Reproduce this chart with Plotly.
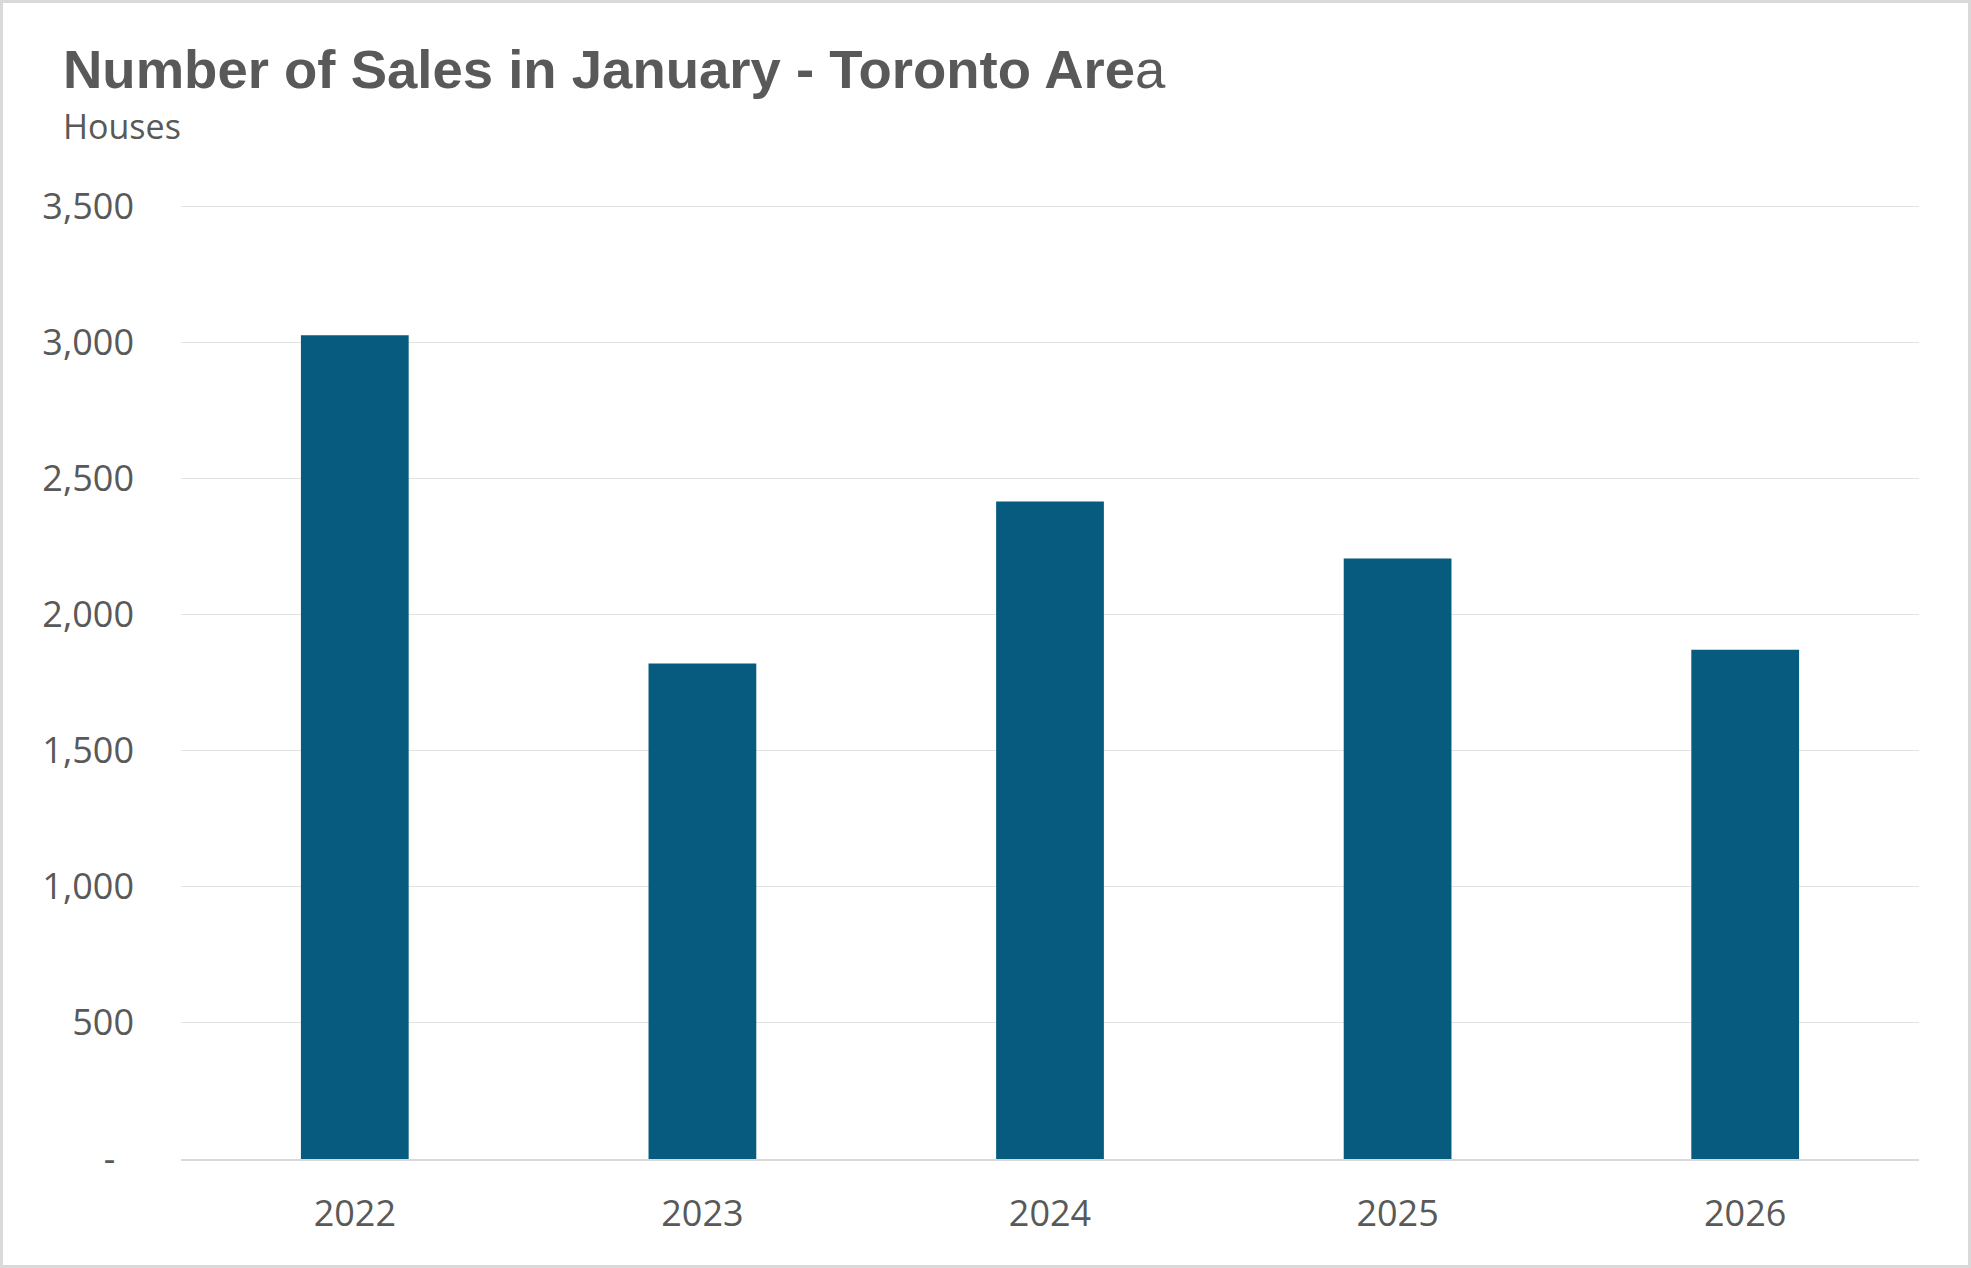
import plotly.graph_objects as go

years = ["2022", "2023", "2024", "2025", "2026"]
sales = [3025, 1820, 2415, 2205, 1870]
y_tick_values = [0, 500, 1000, 1500, 2000, 2500, 3000, 3500]
y_tick_labels = ["-\u00a0\u00a0", "500", "1,000", "1,500", "2,000", "2,500", "3,000", "3,500"]

W, H = 1971, 1268
L, R, T, B = 181, 52, 204, 109
PH = H - T - B
PW = W - L - R
Y_TOP = 3500 * PH / (PH - 2)

def py(p):
    return (H - B - p) / PH

def px(p):
    return (p - L) / PW

fig = go.Figure()
fig.add_trace(go.Bar(x=years, y=sales, marker=dict(color="#075b7e", line=dict(width=0)),
                     hoverinfo="x+y"))

fig.update_layout(
    width=W, height=H,
    margin=dict(l=L, r=R, t=T, b=B, pad=0),
    paper_bgcolor="white", plot_bgcolor="white",
    bargap=0.69,
    showlegend=False,
    font=dict(family="Open Sans", color="#595959"),
    xaxis=dict(showgrid=False, showline=True, linecolor="#d9d9d9", linewidth=2,
               ticks="", tickfont=dict(size=36, family="Open Sans", color="#595959"),
               ticklabelstandoff=22, zeroline=False),
    yaxis=dict(range=[0, Y_TOP], tickvals=y_tick_values, ticktext=y_tick_labels,
               showgrid=True, gridcolor="#e3e3e3", gridwidth=1, zeroline=False,
               showline=False, ticks="", ticklabelstandoff=46,
               tickfont=dict(size=36, family="Open Sans", color="#595959")),
    annotations=[
        dict(text="<b>Number of Sales in January - Toronto Are</b>a", xref="paper", yref="paper",
             x=px(61), y=py(37), xanchor="left", yanchor="top", showarrow=False,
             font=dict(family="Liberation Sans", size=54.5, color="#595959")),
        dict(text="Houses", xref="paper", yref="paper",
             x=px(61), y=py(101), xanchor="left", yanchor="top", showarrow=False,
             font=dict(family="Open Sans", size=34, color="#595959")),
    ],
    shapes=[
        dict(type="rect", xref="paper", yref="paper", x0=px(1.5), x1=px(W - 1.5),
             y0=py(H - 1.5), y1=py(1.5), line=dict(color="#d9d9d9", width=3),
             fillcolor="rgba(0,0,0,0)", layer="above"),
    ],
)

fig.write_html("out.html", config={"displayModeBar": False},
               post_script="document.body.style.margin='0';")
